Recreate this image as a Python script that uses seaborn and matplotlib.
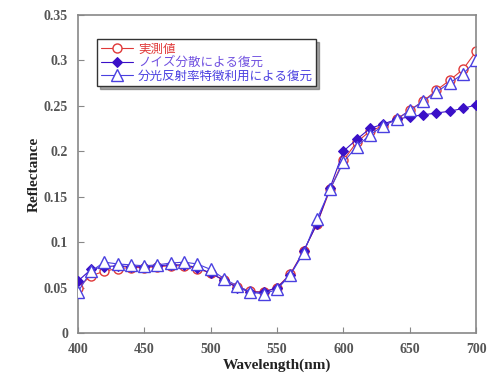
import numpy as np
import pandas as pd
import matplotlib
matplotlib.use("Agg")
import matplotlib.pyplot as plt
import seaborn as sns

# --- data ---
wavelength = list(range(400, 701, 10))
measured = [0.050, 0.063, 0.068, 0.071, 0.072, 0.072, 0.073, 0.074, 0.074, 0.071,
            0.066, 0.058, 0.051, 0.046, 0.045, 0.050, 0.065, 0.090, 0.120, 0.158,
            0.190, 0.210, 0.222, 0.228, 0.235, 0.245, 0.255, 0.267, 0.278, 0.290, 0.310]
noise_restored = [0.057, 0.070, 0.073, 0.074, 0.073, 0.073, 0.074, 0.075, 0.075, 0.072,
                  0.066, 0.058, 0.050, 0.045, 0.045, 0.050, 0.064, 0.090, 0.120, 0.160,
                  0.200, 0.213, 0.225, 0.230, 0.235, 0.238, 0.240, 0.242, 0.244, 0.247, 0.251]
spectral_restored = [0.045, 0.068, 0.078, 0.076, 0.075, 0.074, 0.075, 0.077, 0.078, 0.076,
                     0.070, 0.060, 0.052, 0.045, 0.043, 0.048, 0.064, 0.088, 0.125, 0.158,
                     0.188, 0.205, 0.218, 0.228, 0.235, 0.245, 0.255, 0.265, 0.275, 0.285, 0.300]
labels = ["実測値", "ノイズ分散による復元", "分光反射率特徴利用による復元"]
x_ticks = [400, 450, 500, 550, 600, 650, 700]
y_ticks = [0, 0.05, 0.1, 0.15, 0.2, 0.25, 0.3, 0.35]
y_ticklabels = ["0", "0.05", "0.1", "0.15", "0.2", "0.25", "0.3", "0.35"]

sns.set_style("ticks")
plt.rcParams['font.family'] = ['Liberation Serif', 'Noto Sans CJK JP']

fig, ax = plt.subplots(figsize=(4.92, 3.90), dpi=100)
fig.subplots_adjust(left=0.158, right=0.968, top=0.962, bottom=0.146)

red = "#e03838"
purple = "#3a10c8"
blue = "#4a40e0"

sns.lineplot(x=wavelength, y=measured, ax=ax, color=red, lw=0.8, marker="o",
             markersize=6.5, markerfacecolor="white", markeredgecolor=red,
             markeredgewidth=1.0, label=labels[0], zorder=2)
sns.lineplot(x=wavelength, y=noise_restored, ax=ax, color=purple, lw=0.8, marker="D",
             markersize=5, markerfacecolor=purple, markeredgecolor=purple,
             label=labels[1], zorder=3)
sns.lineplot(x=wavelength, y=spectral_restored, ax=ax, color=blue, lw=0.8, marker="^",
             markersize=8, markerfacecolor="white", markeredgecolor=blue,
             markeredgewidth=1.0, label=labels[2], zorder=4)

ax.set_xlim(400, 700)
ax.set_ylim(0, 0.35)
ax.set_xticks(x_ticks)
ax.set_yticks(y_ticks)
ax.set_yticklabels(y_ticklabels)
ax.tick_params(direction="in", length=4, color="#888888", labelsize=10,
               labelcolor="#555555", pad=7)
for t in ax.get_xticklabels() + ax.get_yticklabels():
    t.set_fontweight("bold")
for s in ax.spines.values():
    s.set_visible(True)
    s.set_color("#888888")
    s.set_linewidth(1.2)

ax.set_xlabel("Wavelength(nm)", fontsize=11, fontweight="bold", color="#222222", labelpad=2)
ax.set_ylabel("Reflectance", fontsize=11, fontweight="bold", color="#222222", labelpad=2)

leg = ax.legend(loc="upper left", bbox_to_anchor=(0.04, 0.935), frameon=True,
                fancybox=False, shadow=True, prop={'family': ['Noto Sans CJK JP'], 'size': 9},
                labelcolor=[red, "#7050e0", blue], handlelength=2.6,
                borderpad=0.25, labelspacing=0.05, handletextpad=0.4, borderaxespad=0.3)
leg.get_frame().set_edgecolor("#333333")
leg.get_frame().set_linewidth(1.0)

fig.savefig("out.png", dpi=100)
plt.close(fig)
